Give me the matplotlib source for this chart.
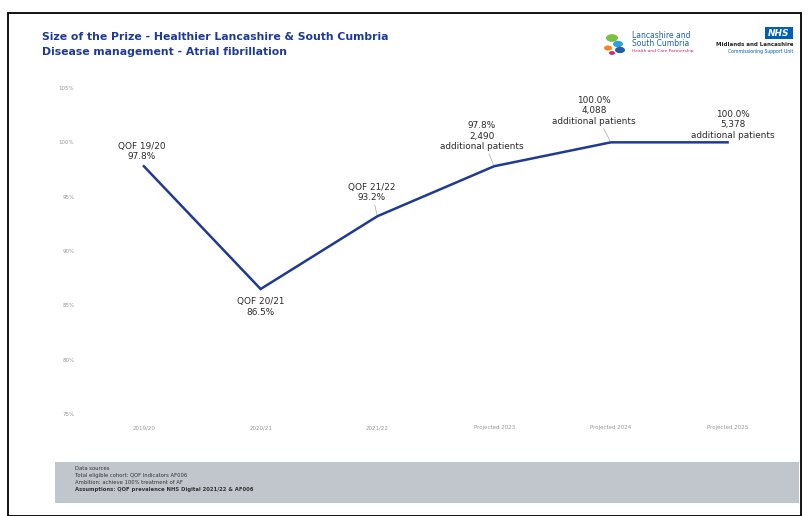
import matplotlib.pyplot as plt
from matplotlib.patches import Rectangle, Circle

periods = ["2019/20", "2020/21", "2021/22", "Projected 2023", "Projected 2024", "Projected 2025"]
rates = [97.8, 86.5, 93.2, 97.8, 100.0, 100.0]
labels = [
    ("QOF 19/20", "97.8%"),
    ("QOF 20/21", "86.5%"),
    ("QOF 21/22", "93.2%"),
    ("97.8%", "2,490\nadditional patients"),
    ("100.0%", "4,088\nadditional patients"),
    ("100.0%", "5,378\nadditional patients"),
]
yticks = [75, 80, 85, 90, 95, 100, 105]
footer = [
    "Data sources",
    "Total eligible cohort: QOF Indicators AF006",
    "Ambition: achieve 100% treatment of AF",
    "Assumptions: QOF prevalence NHS Digital 2021/22 & AF006",
]

W, H = 808, 516
fig = plt.figure(figsize=(W / 100, H / 100), dpi=100)
fig.patch.set_facecolor("white")

# outer frame
fig.patches.append(Rectangle((8 / W, 0), 793 / W, 503 / H, transform=fig.transFigure,
                             fill=False, edgecolor="black", linewidth=1.3))

navy = "#1f3a93"
fig.text(42 / W, 1 - 37 / H, "Size of the Prize - Healthier Lancashire & South Cumbria",
         color=navy, fontsize=7.8, fontweight="bold", va="center")
fig.text(42 / W, 1 - 52 / H, "Disease management - Atrial fibrillation",
         color=navy, fontsize=7.8, fontweight="bold", va="center")

# logos (approximate)
for cx, cy, r, c in [(612, 38, 6, "#7ac143"), (618, 44, 5, "#2e9fd9"), (608, 48, 4, "#f58220"),
                     (620, 50, 5, "#1f5fa8"), (612, 53, 3, "#d6246e")]:
    fig.patches.append(Circle((cx / W, 1 - cy / H), r / W, transform=fig.transFigure,
                              facecolor=c, edgecolor="none"))
fig.text(632 / W, 1 - 35 / H, "Lancashire and", color="#1f5fa8", fontsize=5.5, va="center")
fig.text(632 / W, 1 - 43 / H, "South Cumbria", color="#1f5fa8", fontsize=5.5, va="center")
fig.text(632 / W, 1 - 51 / H, "Health and Care Partnership", color="#d6246e", fontsize=3.2, va="center")
fig.patches.append(Rectangle((765 / W, 1 - 39 / H), 28 / W, 12 / H, transform=fig.transFigure,
                             facecolor="#005eb8", edgecolor="none"))
fig.text(779 / W, 1 - 33 / H, "NHS", color="white", fontsize=6.5, fontweight="bold",
         fontstyle="italic", ha="center", va="center")
fig.text(793 / W, 1 - 45 / H, "Midlands and Lancashire", color="#222222", fontsize=4,
         ha="right", va="center", fontweight="bold")
fig.text(793 / W, 1 - 51 / H, "Commissioning Support Unit", color="#005eb8", fontsize=3.3,
         ha="right", va="center")

ax = fig.add_axes([85.5 / W, (H - 414) / H, 700.5 / W, 326 / H])
x = list(range(len(periods)))
ax.plot(x, rates, color=navy, linewidth=1.8, solid_joinstyle="miter")
ax.set_xlim(-0.5, 5.5)
ax.set_ylim(75, 105)
ax.set_xticks(x)
ax.set_xticklabels(periods, fontsize=4, color="#999999")
ax.set_yticks(yticks)
ax.set_yticklabels([f"{v}%" for v in yticks], fontsize=4, color="#999999")
ax.tick_params(length=0, pad=8)
for s in ax.spines.values():
    s.set_visible(False)

# label offsets in points (dx, dy) and whether to draw a leader line
offsets = [(-1.5, 3.5, False), (0, -6, False), (-4, 10, True), (-9, 11, True), (-12, 12, True), (3.5, 2, False)]
for i, ((head, tail), (dx, dy, lead)) in enumerate(zip(labels, offsets)):
    va = "bottom" if dy > 0 else "top"
    ax.annotate(f"{head}\n{tail}", (x[i], rates[i]), xytext=(dx, dy), textcoords="offset points",
                ha="center", va=va, fontsize=6.4, color="#2a2a2a", linespacing=1.2,
                arrowprops=dict(arrowstyle="-", color="#aaaaaa", lw=0.5, shrinkA=0, shrinkB=1)
                if lead else None)

# footer box
fig.patches.append(Rectangle((55 / W, 1 - 503 / H), 744 / W, 41 / H, transform=fig.transFigure,
                             facecolor="#c0c6cc", edgecolor="none"))
for k, line in enumerate(footer):
    fig.text(75 / W, 1 - (468 + k * 7) / H, line, fontsize=3.8, color="#333333",
             fontweight="bold" if k == 3 else "normal", va="center")

fig.savefig("out.png", dpi=100)
